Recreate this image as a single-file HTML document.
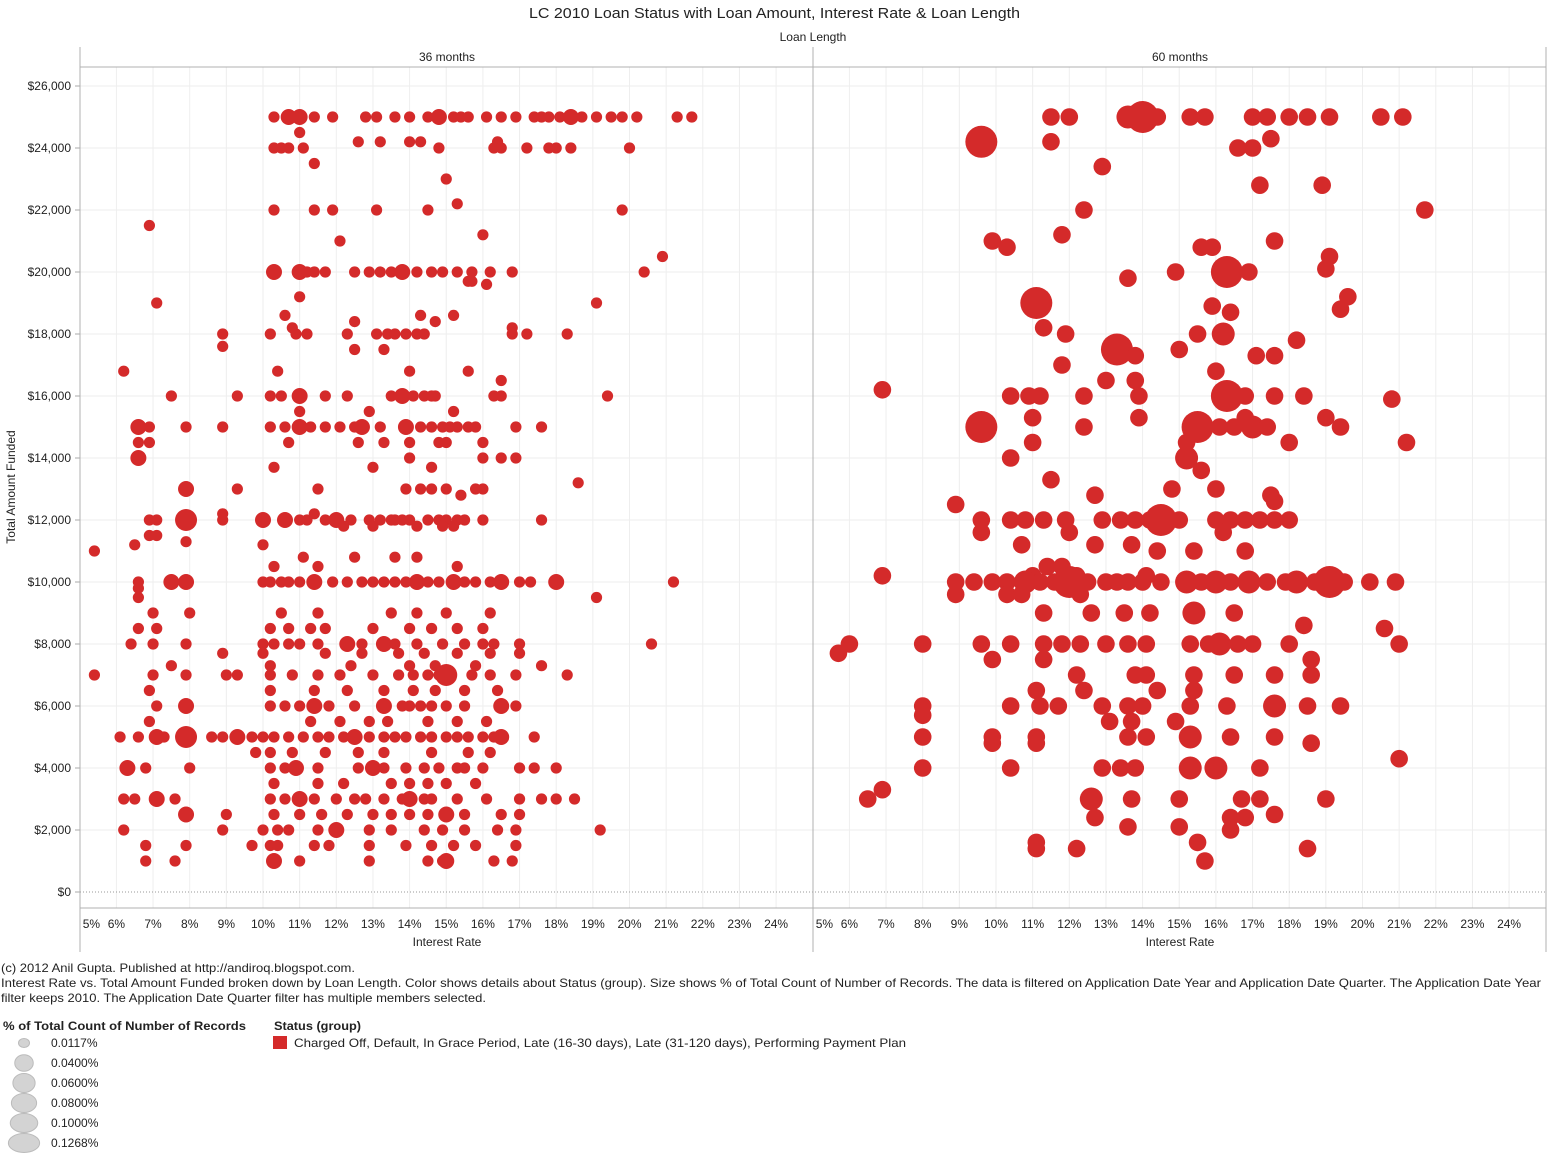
<!DOCTYPE html>
<html><head><meta charset="utf-8"><style>
body{margin:0;background:#fff;font-family:"Liberation Sans",sans-serif;}
svg text{font-family:"Liberation Sans",sans-serif;fill:#222;}
</style></head><body>
<svg id="chart" width="1548" height="1153" xmlns="http://www.w3.org/2000/svg">
<text x="529" y="18" font-size="15" textLength="491" lengthAdjust="spacingAndGlyphs">LC 2010 Loan Status with Loan Amount, Interest Rate &amp; Loan Length</text>
<text x="813" y="41" font-size="12" text-anchor="middle">Loan Length</text>
<text x="447" y="61" font-size="12" text-anchor="middle">36 months</text>
<text x="1180" y="61" font-size="12" text-anchor="middle">60 months</text>
<text transform="translate(15,487) rotate(-90)" font-size="12" text-anchor="middle">Total Amount Funded</text>
<text x="447" y="946" font-size="12" text-anchor="middle">Interest Rate</text>
<text x="1180" y="946" font-size="12" text-anchor="middle">Interest Rate</text>
<g id="grid"></g><g id="frame"></g><g id="marks"></g>
<g font-size="12">
<text x="1" y="972" textLength="354" lengthAdjust="spacingAndGlyphs">(c) 2012 Anil Gupta. Published at http://andiroq.blogspot.com.</text>
<text x="1" y="987" textLength="1540" lengthAdjust="spacingAndGlyphs">Interest Rate vs. Total Amount Funded broken down by Loan Length.  Color shows details about Status (group).  Size shows % of Total Count of Number of Records. The data is filtered on Application Date Year and Application Date Quarter. The Application Date Year</text>
<text x="1" y="1002" textLength="485" lengthAdjust="spacingAndGlyphs">filter keeps 2010. The Application Date Quarter filter has multiple members selected.</text>
</g>
<text x="3" y="1030" font-size="12" font-weight="bold" textLength="243" lengthAdjust="spacingAndGlyphs">% of Total Count of Number of Records</text>
<g id="sizeLegend"></g>
<text x="274" y="1030" font-size="12" font-weight="bold" textLength="87" lengthAdjust="spacingAndGlyphs">Status (group)</text>
<rect x="273" y="1036" width="14" height="13" fill="#d42a2a"/>
<text x="294" y="1047" font-size="12" textLength="612" lengthAdjust="spacingAndGlyphs">Charged Off, Default, In Grace Period, Late (16-30 days), Late (31-120 days), Performing Payment Plan</text>
</svg>
<script>
const yTicks=[0,2000,4000,6000,8000,10000,12000,14000,16000,18000,20000,22000,24000,26000];
const xTicks=[5,6,7,8,9,10,11,12,13,14,15,16,17,18,19,20,21,22,23,24];
const legendLabels=["0.0117%","0.0400%","0.0600%","0.0800%","0.1000%","0.1268%"];
// rows: [amount in $k, "rates; L=large X=extra large"]
const rows36=[
[25,"10.3 10.7L 11.0L 11.4 11.9 12.8 13.1 13.6 14.0 14.5 14.8L 15.2 15.4 15.6 16.1 16.5 16.9 17.4 17.6 17.8 18.1 18.4L 18.7 19.1 19.5 19.8 20.2 21.3 21.7"],
[24.5,"11.0"],[24.2,"12.6 13.2 14.0 14.3 16.4"],
[24,"10.3 10.5 10.7 11.1 14.8 16.3 16.5 17.2 17.8 18.0 18.4 20.0"],
[23.5,"11.4"],[23,"15.0"],[22,"10.3 11.4 11.9 13.1 14.5 19.8"],[22.2,"15.3"],
[21.5,"6.9"],[21,"12.1"],[21.2,"16.0"],[20.5,"20.9"],
[20,"10.3L 11.0L 11.2 11.4 11.7 12.5 12.9 13.2 13.5 13.8L 14.2 14.6 14.9 15.3 15.7 16.2 16.8 20.4"],
[19.7,"15.6 15.7"],[19.6,"16.1"],[19.2,"11.0"],[19,"7.1 19.1"],[18.6,"10.6 14.3 15.2"],[18.4,"12.5 14.7"],
[18,"8.9 10.2 10.9 11.2 12.3 13.1 13.4 13.6 13.9 14.2 14.4 16.8 17.2 18.3"],[18.2,"10.8 16.8"],
[17.6,"8.9"],[17.5,"12.5 13.3"],[16.8,"6.2 10.4 14.0 15.6"],[16.5,"16.5"],
[16,"7.5 9.3 10.2 10.5 11.0L 11.7 12.3 13.5 13.8L 14.1 14.4 14.6 14.7 16.3 16.5 19.4"],
[15.5,"11.0 12.9 15.2"],
[15,"6.6L 6.9 7.9 8.9 10.2 10.6 11.0L 11.3 11.7 12.1 12.5 12.7L 13.2 13.9L 14.3 14.6 14.9 15.1 15.3 15.6 15.8 16.9 17.6"],
[14.5,"6.6 6.9 10.7 12.6 13.3 14.0 14.8 15.0 16.0"],[14,"6.6L 14.0 16.0 16.5 16.9"],
[13.7,"10.3 13.0 14.6"],[13.2,"18.6"],[13,"7.9L 9.3 11.5 13.9 14.3 14.6 15.0 15.8 16.0"],[12.8,"15.4"],
[12,"6.9 7.1 7.9X 8.9 10.0L 10.6L 11.0 11.2 11.7 12.0L 12.4 12.9 13.2 13.5 13.6 13.8 14.0 14.5 14.8 15.0 15.3 15.5 16.0 17.6"],
[12.2,"8.9 11.4"],[11.8,"12.2 13.0 14.2 14.9 15.2"],[11.2,"6.5 10.0"],[11,"5.4"],[11.5,"6.9 7.1"],[11.3,"7.9"],
[10.8,"11.1 12.5 13.6 14.2"],[10.5,"10.3 11.5 15.3"],
[10,"6.6 7.5L 7.9L 10.0 10.2 10.5 10.7 11.0 11.4L 11.9 12.3 12.7 13.0 13.3 13.6 13.9 14.2L 14.5 14.8 15.2L 15.5 15.8 16.2 16.5L 17.0 17.3 18.0L 21.2"],
[9.8,"6.6"],[9.5,"6.6 19.1"],[9,"7.0 8.0 10.5 11.5 13.5 14.2 15.0 16.2"],
[8.5,"6.6 7.1 10.2 10.7 11.3 11.7 13.0 14.0 14.6 15.3 16.0"],
[8,"6.4 7.0 7.9 10.0 10.3 10.7 11.0 11.5 12.3L 12.7 13.3L 13.6 14.2 14.9 15.5 16.0 16.3 17.0 20.6"],
[7.7,"8.9 10.0 11.7 12.7 13.7 14.4 15.3 16.2 17.0"],[7.3,"7.5 10.2 12.4 14.0 14.7 15.8 17.6"],
[7,"5.4 7.0 7.9 9.0 9.3 10.2 10.8 11.5 12.1 13.0 13.7 14.1 14.5 14.8 15.0X 15.7 16.2 16.9 18.3"],
[6.5,"6.9 10.2 11.4 12.3 13.3 14.1 14.7 15.5 16.4"],
[6,"7.1 7.9L 10.2 10.6 11.0 11.4L 11.8 12.5 13.3L 13.8 14.0 14.3 14.6 15.0 15.5 16.5L 16.9"],
[5.5,"6.9 11.3 12.1 12.9 13.4 14.5 15.3 16.1"],
[5,"6.1 6.6 7.1L 7.3 7.9X 8.6 8.9 9.3L 9.7 10.0 10.3 10.7 11.1 11.5 11.8 12.2 12.5L 12.9 13.3 13.6 13.9 14.3 14.6 15.0 15.3 15.6 16.0 16.3 16.5L 17.4"],
[4.5,"9.8 10.2 10.8 11.7 12.6 13.3 14.6 15.6 16.2"],
[4,"6.3L 6.8 8.0 10.2 10.6 10.9L 11.5 12.6 13.0L 13.3 13.9 14.4 14.8 15.3 15.5 16.0 17.0 17.4 18.0"],
[3.5,"10.3 11.5 12.2 13.5 14.0 14.5 15.0 15.8"],
[3,"6.2 6.5 7.1L 7.6 10.2 10.6 11.0L 11.4 12.0 12.5 12.8 13.3 13.8 14.0L 14.4 14.6 15.3 16.1 17.0 17.6 18.0 18.5"],
[2.5,"7.9L 9.0 10.3 11.0 11.6 12.3 13.0 13.5 14.0 14.5 15.0L 15.5 16.5 17.0"],
[2,"6.2 8.9 10.0 10.4 10.7 11.5 12.0L 12.9 13.5 14.4 14.9 15.5 16.4 16.9 19.2"],
[1.5,"6.8 7.9 9.7 10.2 10.4 11.4 11.8 12.9 13.9 14.6 15.2 15.8 16.9"],
[1,"6.8 7.6 10.3L 11.0 12.9 14.5 14.9 15.0L 16.3 16.8"]
];
const rows60=[
[25,"11.5 12.0 13.6L 14.0X 14.4 15.3 15.7 17.0 17.4 18.0 18.5 19.1 20.5 21.1"],
[24.2,"9.6X 11.5"],[24,"16.6 17.0"],[24.3,"17.5"],[23.4,"12.9"],[22.8,"17.2 18.9"],[22,"12.4 21.7"],
[21.2,"11.8"],[21,"9.9 17.6"],[20.8,"10.3 15.6 15.9"],[20,"14.9 16.3X 16.9"],[20.5,"19.1"],[19.8,"13.6"],[20.1,"19.0"],
[19.2,"19.6"],[19,"11.1X"],[18.8,"19.4"],[18.9,"15.9"],[18.7,"16.4"],[18.2,"11.3"],[18,"11.9 15.5 16.2L"],[17.8,"18.2"],
[17.5,"13.3X 15.0"],[17.3,"13.8 17.1 17.6"],[17,"11.8"],[16.5,"13.0 13.8"],[16.8,"16.0"],[16.2,"6.9"],
[16,"10.4 10.9 11.2 12.4 13.9 16.3X 16.8 17.6 18.4"],[15.3,"11.0 13.9 16.8 19.0"],[15.9,"20.8"],
[15,"9.6X 12.4 15.5X 16.1 16.5 17.0L 17.4 19.4"],[14.5,"11.0 15.2 18.0 21.2"],[14,"10.4 15.2L"],[13.6,"15.6"],
[13.3,"11.5"],[13,"14.8 16.0"],[12.8,"12.7 17.5"],[12.5,"8.9"],
[12,"9.6 10.4 10.8 11.3 11.9 12.9 13.4 13.8 14.2 14.5X 15.0 16.0 16.4 16.8 17.2 17.6 18.0"],
[11.6,"9.6 12.0 16.2"],[12.6,"17.6"],[11.2,"10.7 12.7 13.7"],[11,"14.4 15.4 16.8"],[10.5,"11.4 11.8"],
[10.2,"6.9 11.0 12.2 14.1"],
[10,"8.9 9.4 9.9 10.3 10.8L 11.2 11.6 12.0X 12.5 13.0 13.3 13.6 14.0 14.5 15.2L 15.6 16.0L 16.4 16.9L 17.4 17.9 18.2L 18.7 19.1X 19.5 20.2 20.9"],
[9.6,"8.9 10.3 10.7 12.3"],[9,"11.3 12.6 13.5 14.2 15.4L 16.5"],[8.6,"18.4"],[8.5,"20.6"],
[8,"6.0 8.0 9.6 10.4 11.3 11.8 12.3 13.0 13.6 14.1 15.3 15.8 16.1L 16.6 17.0 18.0 21.0"],[7.7,"5.7"],
[7.5,"9.9 11.3 18.6"],[7,"12.2 13.8 14.1 15.4 16.5 17.6 18.6"],[6.5,"11.1 12.4 14.4 15.4"],
[6,"8.0 10.4 11.2 11.7 12.9 13.6 14.0 15.3 16.3 17.6L 18.5 19.4"],[5.7,"8.0"],[5.5,"13.1 13.7 14.9"],
[5,"8.0 9.9 11.1 13.6 14.1 15.3L 16.4 17.6"],[4.8,"9.9 11.1 18.6"],
[4,"8.0 10.4 12.9 13.4 13.8 15.3L 16.0L 17.2"],[4.3,"21.0"],[3.3,"6.9"],
[3,"6.5 12.6L 13.7 15.0 16.7 17.2 19.0"],[2.5,"17.6"],[2.4,"12.7 16.4 16.8"],[2.1,"13.6 15.0"],[2,"16.4"],
[1.6,"11.1 15.5"],[1.4,"11.1 12.2 18.5"],[1,"15.7"]
];
const NS="http://www.w3.org/2000/svg";
function mk(tag,attrs,parent){const e=document.createElementNS(NS,tag);for(const k in attrs)e.setAttribute(k,attrs[k]);parent.appendChild(e);return e;}
const top0=67,bot=908;
function yS(v){return 892-v*(806/26000);}
function xS(r,p){return 263+p*733+(r-10)*36.65;}
const grid=document.getElementById('grid'),frame=document.getElementById('frame'),marks=document.getElementById('marks');
yTicks.forEach(t=>{
  if(t>0){const l=mk('line',{x1:80,x2:1546,y1:yS(t),y2:yS(t),stroke:'#eeeeee','stroke-width':1},grid);
  
  }
  const tk=mk('line',{x1:75,x2:80,y1:yS(t),y2:yS(t),stroke:'#aaa'},frame);
  
  
  const tx=mk('text',{x:71,y:yS(t)+4,'font-size':12,'text-anchor':'end'},frame);
  tx.textContent='$'+t.toLocaleString('en-US');
  
  
});
[0,1].forEach(p=>{
  xTicks.forEach(r=>{
    const x=xS(r,p);
    if(r>5){const l=mk('line',{x1:x,x2:x,y1:top0,y2:bot,stroke:'#eeeeee'},grid);
    
    }
    const tx=mk('text',{x:r==5?x+3:x,y:928,'font-size':12,'text-anchor':r==5?'start':'middle'},frame);
    tx.textContent=r+'%';
    
    
  });
});
const z=mk('line',{x1:80,x2:1546,y1:892,y2:892,stroke:'#999','stroke-dasharray':'1,2'},frame);


[[80,47,80,952],[813,47,813,952],[1546,47,1546,952],[80,67,1546,67],[80,908,1546,908]].forEach(a=>{
  const l=mk('line',{x1:a[0],y1:a[1],x2:a[2],y2:a[3],stroke:'#b0b0b0'},frame);
  
  
});
function draw(rows,p,base){
  rows.forEach(row=>{
    row[1].split(' ').forEach(tok=>{
      let s=1;if(tok.endsWith('L')){s=2;tok=tok.slice(0,-1);}else if(tok.endsWith('X')){s=3;tok=tok.slice(0,-1);}
      const r=parseFloat(tok);
      const c=mk('circle',{cx:xS(r,p),cy:yS(row[0]*1000),r:base[s-1],fill:'#d42a2a'},marks);
      
      
    });
  });
}
draw(rows36,0,[5.6,8,11]);
draw(rows60,1,[8.8,11.5,16]);
const sl=document.getElementById('sizeLegend');
const lr=[6,11,13.5,15.5,17,19.5];
legendLabels.forEach((lab,i)=>{
  const cy=1043+i*20;
  const c=mk('ellipse',{cx:24,cy:cy,rx:lr[i]*0.75+1,ry:Math.min(lr[i]*0.75,9.5),fill:'#d3d3d3',stroke:'#bbb'},sl);
  
  
  const t=mk('text',{x:51,y:cy+4,'font-size':12},sl);
  t.textContent=lab;
  
  
});
</script>
</body></html>
